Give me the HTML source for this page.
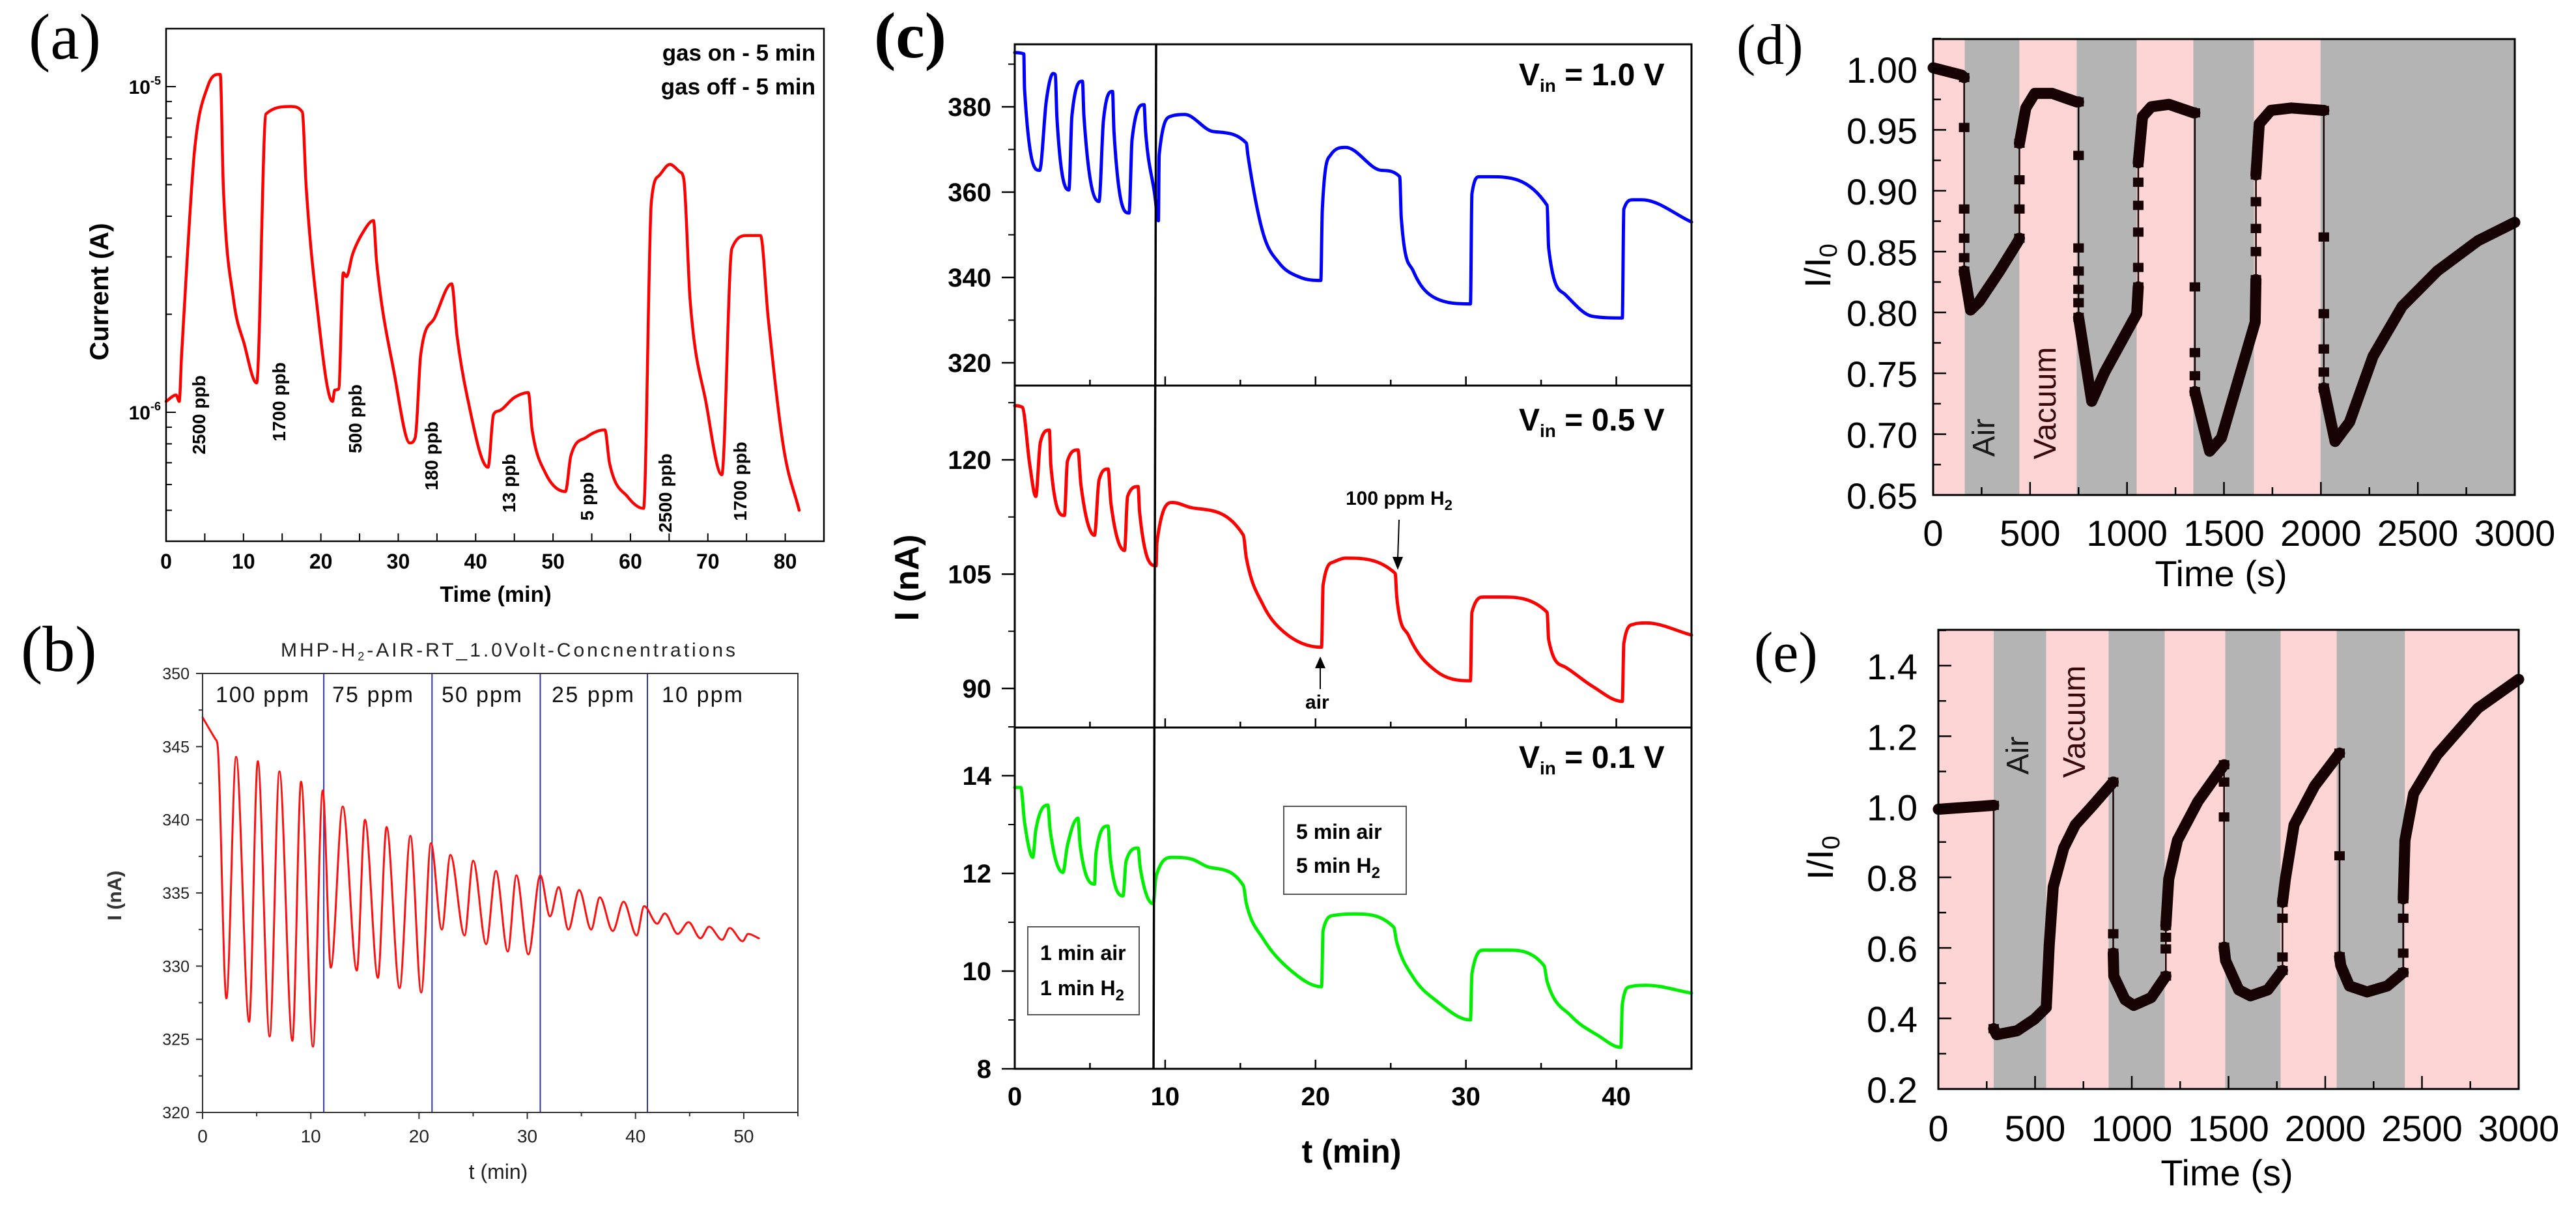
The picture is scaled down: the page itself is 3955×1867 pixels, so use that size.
<!DOCTYPE html>
<html><head><meta charset="utf-8"><style>
html,body{margin:0;padding:0;background:#fff;}
svg{display:block;}
text{font-family:"Liberation Sans",Arial,sans-serif;}
.serif{font-family:"Liberation Serif",serif;}
</style></head><body>
<svg id="chart" xmlns="http://www.w3.org/2000/svg" width="3955" height="1867" viewBox="0 0 3955 1867">
<rect x="0" y="0" width="3955" height="1867" fill="#fff"/>
<text class="serif" x="44" y="90" font-size="100">(a)</text>
<text class="serif" x="32" y="1030" font-size="100">(b)</text>
<text class="serif" x="1342" y="88" font-size="100" font-weight="bold">(c)</text>
<text class="serif" x="2666" y="98" font-size="88">(d)</text>
<text class="serif" x="2693" y="1031" font-size="88">(e)</text>

<text x="1252" y="93" font-size="35" font-weight="bold" text-anchor="end">gas on - 5 min</text>
<text x="1252" y="145" font-size="35" font-weight="bold" text-anchor="end">gas off - 5 min</text>
<text transform="translate(166,448) rotate(-90)" font-size="40" font-weight="bold" text-anchor="middle">Current (A)</text>
<text x="761" y="924" font-size="34" font-weight="bold" text-anchor="middle">Time (min)</text>
<text x="247" y="144" font-size="30" font-weight="bold" text-anchor="end">10<tspan font-size="18" dy="-14">-5</tspan></text>
<text x="247" y="644" font-size="30" font-weight="bold" text-anchor="end">10<tspan font-size="18" dy="-14">-6</tspan></text>
<g font-size="28" font-weight="bold" text-anchor="middle">
<text transform="translate(315,637) rotate(-90)">2500 ppb</text>
<text transform="translate(438,617) rotate(-90)">1700 ppb</text>
<text transform="translate(555,643) rotate(-90)">500 ppb</text>
<text transform="translate(672,700) rotate(-90)">180 ppb</text>
<text transform="translate(791,742) rotate(-90)">13 ppb</text>
<text transform="translate(911,762) rotate(-90)">5 ppb</text>
<text transform="translate(1031,757) rotate(-90)">2500 ppb</text>
<text transform="translate(1146,739) rotate(-90)">1700 ppb</text>
</g>

<text x="780" y="1008" font-size="30" fill="#222" text-anchor="middle" textLength="698">MHP-H<tspan font-size="18" dy="6">2</tspan><tspan dy="-6">-AIR-RT_1.0Volt-Concnentrations</tspan></text>
<g font-size="34" fill="#111">
<text x="331" y="1078" textLength="143">100 ppm</text>
<text x="510" y="1078" textLength="124">75 ppm</text>
<text x="678" y="1078" textLength="123">50 ppm</text>
<text x="847" y="1078" textLength="126">25 ppm</text>
<text x="1016" y="1078" textLength="124">10 ppm</text>
</g>
<text transform="translate(186,1375) rotate(-90)" font-size="30" font-weight="bold" fill="#333" text-anchor="middle">I (nA)</text>
<text x="765" y="1810" font-size="32" fill="#222" text-anchor="middle">t (min)</text>

<text x="2332" y="131" font-size="48" font-weight="bold">V<tspan font-size="28" dy="10">in</tspan><tspan dy="-10"> = 1.0 V</tspan></text>
<text x="2332" y="661" font-size="48" font-weight="bold">V<tspan font-size="28" dy="10">in</tspan><tspan dy="-10"> = 0.5 V</tspan></text>
<text x="2332" y="1179" font-size="48" font-weight="bold">V<tspan font-size="28" dy="10">in</tspan><tspan dy="-10"> = 0.1 V</tspan></text>
<text x="2066" y="775" font-size="30" font-weight="bold">100 ppm H<tspan font-size="22" dy="8">2</tspan></text>
<line x1="2148" y1="798" x2="2146" y2="858" stroke="#000" stroke-width="2"/>
<polygon points="2138,855 2154,855 2146,875" fill="#000"/>
<text x="2004" y="1088" font-size="30" font-weight="bold">air</text>
<line x1="2027" y1="1058" x2="2027" y2="1022" stroke="#000" stroke-width="2"/>
<polygon points="2019,1026 2035,1026 2027,1008" fill="#000"/>
<rect x="1971" y="1238" width="188" height="135" fill="#fff" stroke="#555" stroke-width="2"/>
<text x="1990" y="1288" font-size="32" font-weight="bold">5 min air</text>
<text x="1990" y="1340" font-size="32" font-weight="bold">5 min H<tspan font-size="24" dy="8">2</tspan></text>
<rect x="1578" y="1423" width="171" height="135" fill="#fff" stroke="#555" stroke-width="2"/>
<text x="1597" y="1474" font-size="32" font-weight="bold">1 min air</text>
<text x="1597" y="1528" font-size="32" font-weight="bold">1 min H<tspan font-size="24" dy="8">2</tspan></text>
<text transform="translate(1410,887) rotate(-90)" font-size="52" font-weight="bold" text-anchor="middle">I (nA)</text>
<text x="2075" y="1785" font-size="50" font-weight="bold" text-anchor="middle">t (min)</text>

<text x="3410" y="900" font-size="56" text-anchor="middle">Time (s)</text>
<text transform="translate(2810,408) rotate(-90)" font-size="56" text-anchor="middle">I/I<tspan font-size="38" dy="10">0</tspan></text>
<text x="3419" y="1820" font-size="56" text-anchor="middle">Time (s)</text>
<text transform="translate(2814,1317) rotate(-90)" font-size="56" text-anchor="middle">I/I<tspan font-size="38" dy="10">0</tspan></text>

<g id="layer"></g>
<g id="overlay">
<text transform="translate(3062,672) rotate(-90)" font-size="48" fill="#1a1a1a" text-anchor="middle">Air</text>
<text transform="translate(3156,619) rotate(-90)" font-size="48" fill="#3a0a0a" text-anchor="middle">Vacuum</text>
<text transform="translate(3114,1160) rotate(-90)" font-size="48" fill="#1a1a1a" text-anchor="middle">Air</text>
<text transform="translate(3201,1108) rotate(-90)" font-size="48" fill="#3a0a0a" text-anchor="middle">Vacuum</text>
</g>
</svg>
<script>
// ---------- data ----------
const aTime = [0,1.3,1.7,2.0,2.7,3.7,5.4,6.7,7.0,7.4,8.7,10.1,11.7,12.9,16.1,17.6,18.1,19.4,21.5,21.8,22.3,22.9,23.3,24.1,25.5,26.8,27.2,29.5,31.5,32.2,32.9,34.7,36.9,37.6,38.9,41.6,42.3,43.0,45,46.8,47.3,49,51.6,52.3,54.3,56.7,57.3,59.7,61.7,62.7,63.7,65.1,66.4,66.9,67.7,69.8,71.8,73.1,75.1,76.8,77.8,79.8,81.8];
const aCurrentMicroA = [1.08,1.13,1.08,1.50,2.90,6.46,10.05,10.9,10.9,4.92,2.23,1.62,1.23,8.24,8.69,8.36,4.92,2.23,1.08,1.17,1.18,2.68,2.61,3.06,3.59,3.88,2.90,1.31,0.805,0.838,1.50,1.95,2.48,1.71,1.12,0.678,0.982,1.01,1.11,1.15,0.883,0.652,0.571,0.735,0.838,0.883,0.697,0.548,0.507,4.42,5.33,5.77,5.47,5.19,2.23,1.06,0.643,3.18,3.49,3.49,1.95,0.775,0.50];
const aXTicks = [0,10,20,30,40,50,60,70,80];

const bTime = [0,1.2,1.4,2.2,3.1,4.3,5.1,6.2,7.1,8.3,9.1,10.2,11.1,11.85,12.95,14.25,15.0,16.2,17.0,18.2,19.2,20.2,21.1,22.1,22.9,24.2,25.0,26.2,27.1,28.2,29.0,30.1,31.2,32.1,32.9,33.8,34.8,35.9,36.7,37.9,38.9,40.1,40.8,42,42.7,43.9,44.9,46,46.8,48,48.7,49.9,50.4,51.4];
const bCurrent = [347.0,345.5,345,327.8,344.3,326.2,344.0,325.2,343.3,324.9,342.6,324.5,342.0,329.9,340.9,329.7,340.0,329.2,339.5,328.5,338.9,328.2,338.4,332.5,337.6,332.1,337.2,331.5,336.5,331.0,336.2,330.8,336.2,333.4,335.4,332.5,335.2,332.5,334.7,332.4,334.4,332.1,334.1,332.9,333.6,332.2,333.0,331.9,332.7,331.8,332.6,331.7,332.2,331.9];
const bRegionBounds = [11.2,21.2,31.2,41.1];
const bXTicks = [0,10,20,30,40,50];
const bYTicks = [320,325,330,335,340,345,350];

const cTime1 = [0,0.6,0.65,1.65,2.1,2.55,2.7,2.8,3.6,3.8,4.5,4.6,5.6,5.9,6.5,6.6,7.6,7.8,8.6,8.7,9.3,9.55,9.6,10.4,11.3,13.2,15.4,15.5,16.5,17.6,19,20.35,20.45,21,22,24.4,25.6,25.7,26.5,28,30.3,30.4,30.9,31.6,35.4,35.5,36.6,38.4,40.4,40.5,41.1,41.7,45];
const cTop = [392.7,392.4,384.2,365.1,381.5,387.8,387.5,377.8,360.5,377.8,386,377.8,357.8,376.9,383.6,374,355.1,372.4,380.5,374.2,359.6,353.3,368.7,377.8,378.2,374.2,371.5,368.7,350.5,343.3,340,339.3,356,368.7,370.5,365.1,363.6,354,341.5,335.1,333.8,359.6,363.6,363.6,356.9,346.9,336,330.9,330.5,356,358.2,358.2,353];
const cTime2 = [0,0.5,1,1.4,1.7,2.3,2.4,3.3,3.5,4.2,4.4,5.3,5.6,6.2,6.4,7.3,7.5,8.2,8.3,9.4,9.45,10.5,11.8,15.2,15.4,16.5,17.9,20.4,20.5,21.2,22,25.3,25.4,26.2,28,30.3,30.4,31.2,32.3,35.4,35.5,36.6,38.4,40.4,40.5,41.1,42,45];
const cMid = [127.1,126.9,119.3,115.2,122.3,123.9,119.3,112.7,119.8,121.3,116.7,110.1,117.3,118.8,114.2,108.1,115.2,116.5,113.2,106.1,109.1,114.4,113.7,110.1,107.1,101.0,97.4,95.4,103.5,106.6,107.1,105.1,102,96.9,92.3,91,100,102,102,100,96.4,92.8,90.3,88.3,95.9,98.4,98.6,97];
const cTime3 = [0,0.4,0.65,1.2,1.4,2.2,2.35,3.2,3.5,4.2,4.35,5.3,5.4,6.2,6.35,7.2,7.4,8.2,8.35,9.2,9.4,10.5,11.8,12.9,15.2,15.4,16.5,18.3,20.4,20.5,21.2,22.6,25.2,25.4,26.5,28,30.3,30.4,31.2,32.7,35.2,35.4,37,38.8,40.3,40.4,40.9,42,45];
const cBot = [13.76,13.76,13.05,12.33,12.89,13.4,12.89,12.02,12.57,13.13,12.57,11.78,12.41,12.97,12.33,11.54,12.25,12.52,12.1,11.38,11.94,12.33,12.29,12.13,11.75,11.38,10.67,10.03,9.68,10.83,11.14,11.17,10.9,10.59,9.87,9.4,9.0,9.95,10.43,10.43,10.11,9.79,9.08,8.68,8.44,9.32,9.68,9.71,9.55];
const cSwitchTime = 9.4;
const cXTicks = [0,10,20,30,40];
const cYTicksTop = [320,340,360,380];
const cYTicksMid = [90,105,120];
const cYTicksBot = [8,10,12,14];

const dTime = [0,147,160,160,160,160,160,160,193,238,343,440,
445,445,445,445,478,524,614,740,
750,750,750,750,750,750,750,818,885,1050,
1058,1058,1058,1058,1058,1058,1080,1125,1216,1345,
1350,1350,1350,1350,1350,1426,1487,1661,
1665,1665,1665,1665,1665,1682,1742,1848,2010,
2015,2015,2015,2015,2015,2015,2073,2148,2269,2419,2600,2811,3000];
const dRatio = [1.001,0.995,0.993,0.952,0.885,0.861,0.845,0.834,0.802,0.809,0.834,0.859,
0.861,0.885,0.909,0.939,0.968,0.980,0.980,0.973,
0.973,0.929,0.853,0.834,0.819,0.808,0.796,0.727,0.751,0.799,
0.821,0.837,0.866,0.888,0.907,0.923,0.961,0.969,0.971,0.964,
0.964,0.821,0.767,0.748,0.735,0.686,0.697,0.792,
0.827,0.850,0.869,0.891,0.913,0.955,0.966,0.968,0.966,
0.966,0.862,0.799,0.770,0.751,0.738,0.694,0.710,0.764,0.805,0.834,0.859,0.874];
const dBandEdges = [0,163,445,740,1050,1342,1655,1998,3000];
const dXTicks = [0,500,1000,1500,2000,2500,3000];
const dYTicks = ['0.65','0.70','0.75','0.80','0.85','0.90','0.95','1.00'];

const eTime = [0,286,286,301,407,497,558,573,594,648,708,799,904,
904,904,907,965,1010,1100,1176,
1176,1176,1176,1191,1236,1342,1477,
1477,1477,1477,1485,1553,1613,1703,1779,
1779,1779,1779,1794,1839,1945,2074,
2074,2074,2080,2125,2216,2321,2403,
2403,2403,2403,2412,2457,2578,2789,3000];
const eRatio = [0.993,1.004,0.371,0.354,0.365,0.398,0.431,0.607,0.773,0.883,0.949,1.004,1.070,
0.640,0.585,0.520,0.453,0.437,0.459,0.520,
0.597,0.630,0.663,0.795,0.905,1.015,1.119,
1.070,0.971,0.602,0.564,0.481,0.464,0.481,0.536,
0.574,0.684,0.729,0.795,0.949,1.059,1.152,
0.861,0.575,0.55,0.492,0.475,0.492,0.530,
0.585,0.684,0.739,0.905,1.037,1.147,1.279,1.361];
const eBandEdges = [0,286,558,880,1170,1483,1770,2059,2412,3000];
const eXTicks = [0,500,1000,1500,2000,2500,3000];
const eYTicks = ['0.2','0.4','0.6','0.8','1.0','1.2','1.4'];

// ---------- helpers ----------
const NS = 'http://www.w3.org/2000/svg';
const layer = document.getElementById('layer');
function mk(parent, tag, attrs, name) {
  const e = document.createElementNS(NS, tag);
  for (const k in attrs) e.setAttribute(k, attrs[k]);
  
  
  parent.appendChild(e);
  return e;
}
function tx(parent, x, y, s, attrs, name) {
  const e = mk(parent, 'text', Object.assign({x: x, y: y}, attrs), name);
  e.textContent = s;
  return e;
}
function ln(parent, x1, y1, x2, y2, w, name, col) {
  return mk(parent, 'line', {x1: x1, y1: y1, x2: x2, y2: y2, stroke: col || '#000', 'stroke-width': w}, name);
}
function poly(parent, T, V, fx, fy, col, w, name) {
  const p = T.map((t, i) => fx(t).toFixed(1) + ',' + fy(V[i]).toFixed(1)).join(' ');
  return mk(parent, 'polyline', {points: p, fill: 'none', stroke: col, 'stroke-width': w, 'stroke-linejoin': 'round', 'stroke-linecap': 'round'}, name);
}
// monotone cubic (Fritsch-Carlson) smooth path through data points
function smooth(parent, T, V, fx, fy, col, w, name) {
  const X = T.map(fx), Y = V.map(fy), n = X.length;
  const d = [], m = new Array(n);
  for (let i = 0; i < n - 1; i++) d.push((Y[i + 1] - Y[i]) / Math.max(X[i + 1] - X[i], 0.01));
  m[0] = d[0]; m[n - 1] = d[n - 2];
  for (let i = 1; i < n - 1; i++) m[i] = (d[i - 1] * d[i] <= 0) ? 0 : (d[i - 1] + d[i]) / 2;
  for (let i = 0; i < n - 1; i++) {
    if (d[i] === 0) { m[i] = 0; m[i + 1] = 0; continue; }
    const a = m[i] / d[i], b = m[i + 1] / d[i], s = a * a + b * b;
    if (s > 9) { const t = 3 / Math.sqrt(s); m[i] = t * a * d[i]; m[i + 1] = t * b * d[i]; }
  }
  let p = 'M' + X[0].toFixed(1) + ',' + Y[0].toFixed(1);
  for (let i = 0; i < n - 1; i++) {
    const h = (X[i + 1] - X[i]) / 3;
    p += ' C' + (X[i] + h).toFixed(1) + ',' + (Y[i] + m[i] * h).toFixed(1) + ' ' + (X[i + 1] - h).toFixed(1) + ',' + (Y[i + 1] - m[i + 1] * h).toFixed(1) + ' ' + X[i + 1].toFixed(1) + ',' + Y[i + 1].toFixed(1);
  }
  return mk(parent, 'path', {d: p, fill: 'none', stroke: col, 'stroke-width': w, 'stroke-linejoin': 'round', 'stroke-linecap': 'round'}, name);
}

// ---------- panel a ----------
const ax = t => 255 + t / 85 * 1010;
const ay = v => 633 - 500 * Math.log10(v);
const gA = mk(layer, 'g', {}, 'panel-a');
aXTicks.forEach(t => {
  tx(gA, ax(t), 873, String(t), {'font-size': 32, 'font-weight': 'bold', 'text-anchor': 'middle'}, 'a-x-tick-label');
});
for (let t = 5; t <= 80; t += 5) {
  ln(gA, ax(t), 831, ax(t), 819, 2, 'a-x-tick');
}
[0.1, 1, 10].forEach(dec => {
  for (let k = 1; k <= 9; k++) {
    const v = k * dec;
    const y = ay(v);
    if (y < 46 || y > 829) continue;
    ln(gA, 255, y, 255 + (k === 1 ? 15 : 9), y, 2, 'a-y-tick');
  }
});
smooth(gA, aTime, aCurrentMicroA, ax, ay, '#ff0000', 4.5, 'a-current-curve');
mk(gA, 'rect', {x: 255, y: 44, width: 1010, height: 787, fill: 'none', stroke: '#000', 'stroke-width': 2.5}, 'a-plot-frame');

// ---------- panel b ----------
const bx = t => 311 + t / 55 * 914;
const by = v => 1708 - (v - 320) / 30 * 674;
const gB = mk(layer, 'g', {}, 'panel-b');
bXTicks.forEach(t => {
  tx(gB, bx(t), 1754, String(t), {'font-size': 28, fill: '#222', 'text-anchor': 'middle'}, 'b-x-tick-label');
  ln(gB, bx(t), 1708, bx(t), 1718, 2, 'b-x-tick', '#333');
  if (t + 5 <= 55) ln(gB, bx(t + 5), 1708, bx(t + 5), 1714, 2, 'b-x-minor-tick', '#333');
});
bYTicks.forEach(v => {
  tx(gB, 291, by(v) + 9, String(v), {'font-size': 25, fill: '#222', 'text-anchor': 'end'}, 'b-y-tick-label');
  ln(gB, 301, by(v), 311, by(v), 2, 'b-y-tick', '#333');
  if (v + 2.5 < 350) ln(gB, 305, by(v + 2.5), 311, by(v + 2.5), 2, 'b-y-minor-tick', '#333');
});
bRegionBounds.forEach(t => {
  ln(gB, bx(t), 1034, bx(t), 1708, 2, 'b-region-divider', '#3535a0');
});
smooth(gB, bTime, bCurrent, bx, by, '#ff1010', 3, 'b-current-curve');
mk(gB, 'rect', {x: 311, y: 1034, width: 914, height: 674, fill: 'none', stroke: '#333', 'stroke-width': 2}, 'b-plot-frame');

// ---------- panel c ----------
const cx = t => 1558 + t / 45 * 1039;
const cy1 = v => 164 + (380 - v) * 6.55;
const cy2 = v => 706 + (120 - v) * 11.7;
const cy3 = v => 1191 + (14 - v) * 75;
const gC = mk(layer, 'g', {}, 'panel-c');
const lblC = {'font-size': 40, 'font-weight': 'bold', 'text-anchor': 'end'};
cYTicksTop.forEach(v => {
  tx(gC, 1522, cy1(v) + 14, String(v), lblC, 'c-top-y-tick-label');
  ln(gC, 1538, cy1(v), 1558, cy1(v), 2.5, 'c-top-y-tick');
  ln(gC, 1548, cy1(v + 10), 1558, cy1(v + 10), 2, 'c-top-y-minor-tick');
});
cYTicksMid.forEach(v => {
  tx(gC, 1522, cy2(v) + 14, String(v), lblC, 'c-mid-y-tick-label');
  ln(gC, 1538, cy2(v), 1558, cy2(v), 2.5, 'c-mid-y-tick');
  if (v + 7.5 < 129) ln(gC, 1548, cy2(v + 7.5), 1558, cy2(v + 7.5), 2, 'c-mid-y-minor-tick');
});
cYTicksBot.forEach(v => {
  tx(gC, 1522, cy3(v) + 14, String(v), lblC, 'c-bot-y-tick-label');
  ln(gC, 1538, cy3(v), 1558, cy3(v), 2.5, 'c-bot-y-tick');
  ln(gC, 1548, cy3(v + 1), 1558, cy3(v + 1), 2, 'c-bot-y-minor-tick');
});
cXTicks.forEach(t => {
  tx(gC, cx(t), 1697, String(t), {'font-size': 40, 'font-weight': 'bold', 'text-anchor': 'middle'}, 'c-x-tick-label');
});
[592, 1117, 1641].forEach(yb => {
  for (let t = 5; t < 45; t += 5) {
    ln(gC, cx(t), yb, cx(t), yb - (t % 10 === 0 ? 14 : 9), 2.5, 'c-x-tick');
  }
});
smooth(gC, cTime1, cTop, cx, cy1, '#0000ff', 5, 'c-top-curve-1v');
smooth(gC, cTime2, cMid, cx, cy2, '#ff0000', 5, 'c-mid-curve-0.5v');
smooth(gC, cTime3, cBot, cx, cy3, '#00ee00', 5, 'c-bot-curve-0.1v');
ln(gC, cx(cSwitchTime), 68, cx(cSwitchTime) - 4, 1641, 3.5, 'c-switch-line');
mk(gC, 'rect', {x: 1558, y: 68, width: 1039, height: 1573, fill: 'none', stroke: '#000', 'stroke-width': 3}, 'c-plot-frame');
ln(gC, 1558, 592, 2597, 592, 3, 'c-panel-divider-1');
ln(gC, 1558, 1117, 2597, 1117, 3, 'c-panel-divider-2');

// ---------- panels d/e ----------
function markerSeries(g, T, V, fx, fy, name) {
  let run = [[fx(T[0]), fy(V[0])]];
  const sq = [];
  const flush = () => {
    if (run.length > 1) {
      mk(g, 'polyline', {points: run.map(p => p[0].toFixed(1) + ',' + p[1].toFixed(1)).join(' '), fill: 'none', stroke: '#170303', 'stroke-width': 17, 'stroke-linejoin': 'round', 'stroke-linecap': 'round'}, name + '-segment');
    }
  };
  for (let i = 1; i < T.length; i++) {
    const p = [fx(T[i]), fy(V[i])];
    if (T[i] === T[i - 1]) {
      flush();
      ln(g, fx(T[i - 1]), fy(V[i - 1]), p[0], p[1], 2.5, name + '-jump', '#170303');
      sq.push([fx(T[i - 1]), fy(V[i - 1])]);
      sq.push(p);
      run = [p];
    } else {
      run.push(p);
    }
  }
  flush();
  sq.forEach(p => {
    mk(g, 'rect', {x: p[0] - 8, y: p[1] - 7, width: 16, height: 14, fill: '#170303'}, name + '-marker');
  });
}
function bands(g, edges, fx, top, bottom, name) {
  for (let i = 0; i < edges.length - 1; i++) {
    mk(g, 'rect', {x: fx(edges[i]), y: top, width: fx(edges[i + 1]) - fx(edges[i]), height: bottom - top, fill: i % 2 === 0 ? '#fdd5d5' : '#b4b4b4'}, i % 2 === 0 ? name + '-vacuum-band' : name + '-air-band');
  }
}

const dx = t => 2968 + t / 3000 * 893;
const dy = v => 106 + (1 - v) / 0.05 * 93.43;
const gD = mk(layer, 'g', {}, 'panel-d');
bands(gD, dBandEdges, dx, 60, 760, 'd');
markerSeries(gD, dTime, dRatio, dx, dy, 'd-ratio');
dXTicks.forEach(t => {
  tx(gD, dx(t), 838, String(t), {'font-size': 56, 'text-anchor': 'middle'}, 'd-x-tick-label');
  ln(gD, dx(t), 760, dx(t), 740, 2.5, 'd-x-tick');
  if (t < 3000) ln(gD, dx(t + 250), 760, dx(t + 250), 748, 2.5, 'd-x-minor-tick');
});
dYTicks.forEach(s => {
  const v = parseFloat(s);
  tx(gD, 2944, dy(v) + 21, s, {'font-size': 56, 'text-anchor': 'end'}, 'd-y-tick-label');
  ln(gD, 2968, dy(v), 2988, dy(v), 2.5, 'd-y-tick');
  ln(gD, 2968, dy(v + 0.025), 2980, dy(v + 0.025), 2.5, 'd-y-minor-tick');
});
mk(gD, 'rect', {x: 2968, y: 60, width: 893, height: 700, fill: 'none', stroke: '#000', 'stroke-width': 3}, 'd-plot-frame');

const ex = t => 2976 + t / 3000 * 891;
const ey = v => 1022 + (1.4 - v) / 0.2 * 108.33;
const gE = mk(layer, 'g', {}, 'panel-e');
bands(gE, eBandEdges, ex, 967, 1672, 'e');
markerSeries(gE, eTime, eRatio, ex, ey, 'e-ratio');
eXTicks.forEach(t => {
  tx(gE, ex(t), 1752, String(t), {'font-size': 56, 'text-anchor': 'middle'}, 'e-x-tick-label');
  ln(gE, ex(t), 1672, ex(t), 1652, 2.5, 'e-x-tick');
  if (t < 3000) ln(gE, ex(t + 250), 1672, ex(t + 250), 1660, 2.5, 'e-x-minor-tick');
});
eYTicks.forEach(s => {
  const v = parseFloat(s);
  tx(gE, 2944, ey(v) + 21, s, {'font-size': 56, 'text-anchor': 'end'}, 'e-y-tick-label');
  ln(gE, 2976, ey(v), 2996, ey(v), 2.5, 'e-y-tick');
  ln(gE, 2976, ey(v + 0.1), 2988, ey(v + 0.1), 2.5, 'e-y-minor-tick');
});
mk(gE, 'rect', {x: 2976, y: 967, width: 891, height: 705, fill: 'none', stroke: '#000', 'stroke-width': 3}, 'e-plot-frame');
</script>
</body></html>
